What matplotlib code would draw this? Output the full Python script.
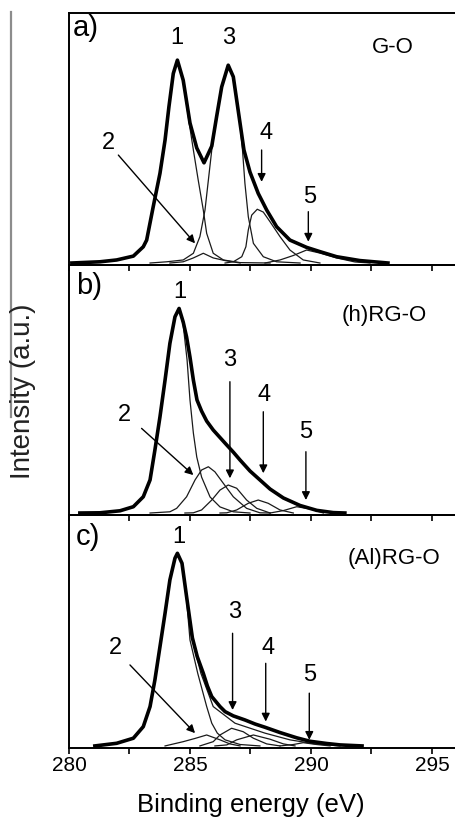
import matplotlib
matplotlib.use('Agg')
import matplotlib.pyplot as plt
from matplotlib.lines import Line2D

plt.rcParams['font.family'] = ['Liberation Sans', 'DejaVu Sans']

# ---- data (binding energy in eV, intensity in a.u.) ----
# panel a) G-O
a_env_x = [280.12, 281.28, 281.97, 282.66, 283.07, 283.21, 283.48, 283.76, 283.97, 284.13, 284.31,
           284.48, 284.72, 285.00, 285.28, 285.58, 285.90, 286.10, 286.31, 286.58, 286.79, 287.07,
           287.23, 287.48, 287.82, 288.17, 288.58, 289.13, 289.82, 290.37, 291.06, 292.02, 293.18]
a_env_y = [0, 0.6, 1.5, 3.4, 8.0, 11.3, 27.7, 44.2, 60.6, 77.0, 93.4,
           100, 90.1, 69.0, 56.7, 49.4, 57.6, 72.1, 86.8, 97.5, 91.8, 68.8,
           55.7, 44.8, 34.3, 26.1, 17.9, 11.3, 7.7, 5.6, 3.1, 1.2, 0]
a_c1_x = [280.12, 281.28, 281.97, 282.66, 283.07, 283.21, 283.48, 283.76, 283.97, 284.13, 284.31,
          284.48, 284.72, 284.98, 285.14, 285.34, 285.55, 285.69, 285.96, 286.38, 287.07, 288.31]
a_c1_y = [0, 0.6, 1.5, 3.4, 8.0, 11.3, 27.6, 43.8, 60.6, 76.8, 93.4,
          100, 89.7, 68.0, 55.7, 40.9, 26.1, 14.6, 4.8, 1.5, 0.2, 0]
a_c2_x = [284.17, 284.72, 285.14, 285.55, 285.96, 286.45, 287.07]
a_c2_y = [0, 0.6, 2.5, 4.8, 2.5, 1.2, 0]
a_c3_x = [283.35, 284.04, 284.72, 285.14, 285.41, 285.62, 285.76, 285.90, 286.10, 286.31, 286.58,
          286.79, 286.94, 287.07, 287.17, 287.27, 287.41, 287.62, 288.03, 288.58, 289.55]
a_c3_y = [0, 0.6, 1.5, 4.8, 13.0, 26.1, 40.9, 55.7, 71.4, 86.2, 97.5,
          91.6, 80.3, 68.0, 55.7, 39.3, 22.8, 9.7, 3.1, 0.6, 0]
a_c4_x = [286.45, 286.79, 287.14, 287.31, 287.41, 287.55, 287.78, 288.03, 288.31, 288.72, 289.13,
          289.68, 290.37]
a_c4_y = [0, 0.6, 3.1, 8.0, 16.3, 23.6, 26.5, 25.1, 20.3, 13.0, 6.4, 1.5, 0]
a_c5_x = [288.10, 288.72, 289.27, 289.82, 290.37, 291.06, 291.82, 292.44]
a_c5_y = [0, 1.5, 3.7, 6.4, 4.9, 2.5, 0.5, 0]

# panel b) (h)RG-O
b_env_x = [280.45, 281.28, 282.11, 282.66, 283.07, 283.35, 283.55, 283.76, 283.97, 284.17, 284.38,
           284.55, 284.72, 284.86, 285.00, 285.14, 285.29, 285.48, 285.69, 285.96, 286.24, 286.52,
           286.79, 287.07, 287.48, 287.89, 288.31, 288.86, 289.55, 290.24, 290.92, 291.40]
b_env_y = [0, 0.1, 1.1, 3.1, 8.0, 16.3, 31.0, 47.4, 65.5, 83.6, 96.7,
           100.8, 94.1, 86.7, 76.8, 65.5, 55.7, 50.2, 45.3, 40.9, 37.2, 33.5,
           30.0, 26.1, 20.7, 16.3, 11.8, 7.4, 3.7, 1.3, 0.2, 0]
b_c1_x = [280.45, 281.28, 282.11, 282.66, 283.07, 283.35, 283.55, 283.76, 283.97, 284.17, 284.38,
          284.55, 284.72, 284.88, 285.00, 285.14, 285.28, 285.48, 285.83, 286.24, 286.79, 287.48]
b_c1_y = [0, 0.1, 1.1, 3.1, 8.0, 16.3, 31.0, 47.4, 65.5, 83.6, 96.7,
          100.8, 92.6, 75.4, 55.7, 39.4, 27.6, 17.7, 7.9, 3.0, 0.6, 0]
b_c2_x = [283.35, 284.17, 284.45, 284.86, 285.21, 285.48, 285.76, 286.03, 286.38, 286.79, 287.34,
          287.89, 288.31]
b_c2_y = [0, 0.6, 2.3, 8.0, 16.3, 21.2, 22.8, 20.3, 14.6, 8.0, 2.3, 0.1, 0]
b_c3_x = [284.79, 285.14, 285.48, 285.90, 286.24, 286.58, 286.93, 287.34, 287.76, 288.31]
b_c3_y = [0, 0.1, 1.5, 6.4, 11.3, 13.8, 12.2, 6.4, 2.3, 0]
b_c4_x = [286.24, 286.52, 286.93, 287.41, 287.82, 288.23, 288.72, 289.27]
b_c4_y = [0, 0.1, 1.5, 4.8, 6.4, 4.8, 1.5, 0]
b_c5_x = [288.31, 288.86, 289.41, 289.96, 290.51]
b_c5_y = [0, 1.2, 3.1, 2.0, 0]

# panel c) (Al)RG-O
c_env_x = [281.07, 281.97, 282.66, 283.07, 283.35, 283.55, 283.76, 283.97, 284.17, 284.38, 284.48,
           284.67, 284.86, 285.10, 285.30, 285.55, 285.72, 285.90, 286.24, 286.45, 286.79, 287.27,
           287.69, 288.10, 288.72, 289.41, 289.96, 290.65, 291.20, 292.11]
c_env_y = [0, 1.3, 3.8, 9.5, 19.4, 32.5, 48.9, 65.4, 81.8, 92.5, 94.9,
           90.0, 73.5, 53.2, 44.0, 35.8, 29.5, 24.3, 19.4, 16.9, 14.8, 12.8,
           10.8, 9.2, 6.6, 4.0, 2.3, 1.2, 0.5, 0]
c_fit_x = [284.86, 285.04, 285.45, 285.96, 286.86, 288.10, 289.13, 290.17, 291.20]
c_fit_y = [73.5, 55.0, 35.8, 19.4, 11.2, 6.3, 3.0, 1.0, 0]
c_c1_x = [281.07, 281.97, 282.66, 283.07, 283.35, 283.55, 283.76, 283.97, 284.17, 284.38, 284.48,
          284.67, 284.86, 285.00, 285.32, 285.69, 285.90, 286.13, 286.45, 287.07, 287.89]
c_c1_y = [0, 1.3, 3.8, 9.5, 19.4, 32.5, 48.9, 65.4, 81.8, 92.5, 94.9,
          89.7, 71.9, 52.2, 35.8, 19.4, 11.2, 6.3, 3.0, 0.7, 0]
c_c2_x = [283.97, 284.72, 285.21, 285.69, 286.24, 286.65, 287.07]
c_c2_y = [0, 2.1, 3.7, 5.4, 3.0, 1.0, 0]
c_c3_x = [285.41, 285.96, 286.24, 286.72, 287.20, 287.62, 288.17, 288.72]
c_c3_y = [0, 2.1, 5.4, 8.7, 7.0, 3.8, 1.0, 0]
c_c4_x = [286.03, 286.52, 286.93, 287.62, 288.31, 288.86, 289.34]
c_c4_y = [0, 0.5, 3.0, 5.4, 3.3, 1.0, 0]
c_c5_x = [288.72, 289.27, 289.68, 290.24, 290.79]
c_c5_y = [0, 0.7, 1.6, 0.7, 0]

sample_names = ['G-O', '(h)RG-O', '(Al)RG-O']
panel_tags = ['a)', 'b)', 'c)']
peak_ids = ['1', '2', '3', '4', '5']
tick_pos = [280, 282.5, 285, 287.5, 290, 292.5, 295]
tick_lab = ['280', '', '285', '', '290', '', '295']

# ---- layout / annotation placement ----
panels = [
    dict(rect=[0.1516, 0.6756, 0.9042, 0.3084], ylim=(-1, 123.2), tagy=0.942, tagx=0.010,
         env=(a_env_x, a_env_y), fit=None,
         comps=[(a_c1_x, a_c1_y), (a_c2_x, a_c2_y), (a_c3_x, a_c3_y), (a_c4_x, a_c4_y), (a_c5_x, a_c5_y)],
         name_xy=(293.4, 106),
         ids_xy=[(284.45, 111), (281.65, 59), (286.58, 111), (288.13, 64), (289.96, 32.7)],
         arrows=[((282.04, 53.2), (285.21, 9.7)), ((287.96, 55.7), (287.96, 40.0)),
                 ((289.89, 25.3), (289.89, 10.5))]),
    dict(rect=[0.1516, 0.3696, 0.9042, 0.3060], ylim=(-1, 122.2), tagy=0.917, tagx=0.017,
         env=(b_env_x, b_env_y), fit=None,
         comps=[(b_c1_x, b_c1_y), (b_c2_x, b_c2_y), (b_c3_x, b_c3_y), (b_c4_x, b_c4_y), (b_c5_x, b_c5_y)],
         name_xy=(293.02, 97.5),
         ids_xy=[(284.59, 109), (282.31, 48.3), (286.65, 75.4), (288.06, 58.1), (289.79, 40)],
         arrows=[((283.0, 41.7), (285.14, 18.7)), ((286.65, 64.7), (286.65, 17.1)),
                 ((288.03, 49.9), (288.03, 19.6)), ((289.79, 30.2), (289.79, 6.4))]),
    dict(rect=[0.1516, 0.0845, 0.9042, 0.2852], ylim=(-1, 113.8), tagy=0.906, tagx=0.017,
         env=(c_env_x, c_env_y), fit=(c_fit_x, c_fit_y),
         comps=[(c_c1_x, c_c1_y), (c_c2_x, c_c2_y), (c_c3_x, c_c3_y), (c_c4_x, c_c4_y), (c_c5_x, c_c5_y)],
         name_xy=(293.43, 92.5),
         ids_xy=[(284.55, 103), (281.94, 48.1), (286.86, 66.2), (288.24, 48.1), (289.96, 35)],
         arrows=[((282.52, 39.9), (285.21, 6.3)), ((286.76, 55.5), (286.76, 17.7)),
                 ((288.13, 40.7), (288.13, 12.0)), ((289.93, 26.0), (289.93, 3.0))]),
]

fig = plt.figure(figsize=(4.55, 8.17), dpi=100)

for i, p in enumerate(panels):
    ax = fig.add_axes(p['rect'])
    ax.patch.set_visible(False)
    for cx, cy in p['comps']:
        ax.plot(cx, cy, color='#1a1a1a', lw=0.9)
    if p['fit'] is not None:
        ax.plot(p['fit'][0], p['fit'][1], color='#1a1a1a', lw=0.9)
    ax.plot(p['env'][0], p['env'][1], color='black', lw=2.6, solid_joinstyle='round')

    ax.set_xlim(280, 297)
    ax.set_ylim(*p['ylim'])
    ax.set_yticks([])
    ax.set_xticks(tick_pos)
    ax.set_xticklabels(tick_lab)
    ax.tick_params(axis='x', direction='out', length=4, width=1.2, pad=1.5,
                   labelsize=15, labelbottom=(i == 2))
    for s in ax.spines.values():
        s.set_linewidth(1.4)
    ax.spines['right'].set_visible(False)

    ax.text(p['tagx'], p['tagy'], panel_tags[i], transform=ax.transAxes,
            ha='left', va='center', fontsize=21)
    ax.text(p['name_xy'][0], p['name_xy'][1], sample_names[i],
            ha='center', va='center', fontsize=16)
    for lab, (tx, ty) in zip(peak_ids, p['ids_xy']):
        ax.text(tx, ty, lab, ha='center', va='center', fontsize=17)
    for tail, head in p['arrows']:
        ax.annotate('', xy=head, xytext=tail,
                    arrowprops=dict(arrowstyle='-|>', color='black', lw=1.0,
                                    mutation_scale=12, shrinkA=0, shrinkB=0))

fig.text(0.552, 0.0005, 'Binding energy (eV)', ha='center', va='bottom', fontsize=18.5)
fig.text(0.05, 0.5206, 'Intensity (a.u.)', rotation=90, ha='center', va='center',
         fontsize=20, color='#222222')
fig.add_artist(Line2D([0.024, 0.024], [0.4896, 0.985], color='#8c8c8c', lw=1.6))

fig.savefig('out.png', dpi=100)
